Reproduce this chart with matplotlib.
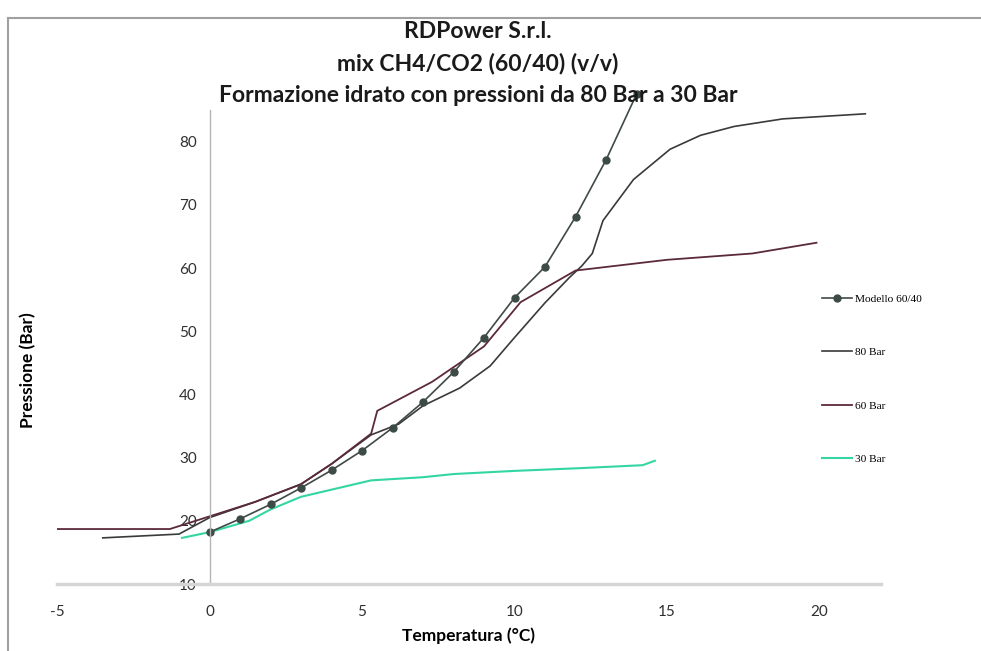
import matplotlib.pyplot as plt
from matplotlib.lines import Line2D

# Modello 60/40
model_t = [0, 1, 2, 3, 4, 5, 6, 7, 8, 9, 10, 11, 12, 13, 14]
model_p = [18.2, 20.3, 22.6, 25.2, 28.0, 31.1, 34.7, 38.8, 43.5, 49.0, 55.3, 60.2, 68.1, 77.1, 87.5]

# 80 Bar
bar80_t = [-3.5, -1.0, 0.0, 1.5, 3.0, 4.0, 5.3, 6.2, 7.0, 8.2, 9.2, 10.0, 11.0, 11.8,
           12.2, 12.55, 12.9, 13.9, 15.1, 16.1, 17.2, 18.8, 21.5]
bar80_p = [17.3, 17.9, 20.5, 23.0, 25.8, 29.0, 33.6, 35.3, 38.2, 41.0, 44.5, 49.0, 54.5, 58.5,
           60.3, 62.3, 67.5, 74.0, 78.8, 81.0, 82.4, 83.6, 84.4]

# 60 Bar
bar60_t = [-5.0, -1.3, 0.0, 1.5, 3.0, 4.0, 5.3, 5.5, 7.3, 9.0, 10.2, 12.0, 15.0, 17.8, 19.9]
bar60_p = [18.7, 18.7, 20.7, 23.0, 25.8, 29.0, 33.8, 37.4, 42.0, 47.6, 54.6, 59.6, 61.3, 62.3, 64.0]

# 30 Bar
bar30_t = [-0.9, 0.0, 1.3, 2.0, 3.0, 5.3, 7.0, 8.0, 10.0, 12.0, 14.2, 14.6]
bar30_p = [17.3, 18.2, 20.0, 21.8, 23.8, 26.4, 26.9, 27.4, 27.9, 28.3, 28.8, 29.5]

x_ticks = [-5, 0, 5, 10, 15, 20]
y_ticks = [10, 20, 30, 40, 50, 60, 70, 80]

plt.rcParams['font.family'] = ['Lato', 'DejaVu Sans']
plt.rcParams['axes.unicode_minus'] = False

fig = plt.figure(figsize=(9.81, 6.51), dpi=100)
ax = fig.add_axes([0.0581, 0.1029, 0.8395, 0.7281])

c80 = "#3a3a3a"
c60 = "#5b2a38"
c30 = "#33d6a2"
cmod = "#3f4a47"

ax.plot(bar80_t, bar80_p, color=c80, lw=1.2, label="80 Bar")
ax.plot(bar60_t, bar60_p, color=c60, lw=1.3, label="60 Bar")
ax.plot(bar30_t, bar30_p, color=c30, lw=1.5, label="30 Bar")
ax.plot(model_t, model_p, color=cmod, lw=1.2, marker="o", ms=5,
        mfc="#3d4b46", mec="#3d4b46", label="Modello 60/40", clip_on=False)

ax.set_xlim(-5, 22)
ax.set_ylim(10, 85)
ax.set_xticks(x_ticks)
ax.set_yticks(y_ticks)

ax.spines['top'].set_visible(False)
ax.spines['right'].set_visible(False)
ax.spines['left'].set_position(('data', 0))
ax.spines['left'].set_color("#b5b5b5")
ax.spines['left'].set_linewidth(1)
ax.spines['bottom'].set_color("#d5d5d5")
ax.spines['bottom'].set_linewidth(2.5)
ax.tick_params(axis='both', length=0, labelsize=11, colors="#303030")
ax.tick_params(axis='y', pad=9)
ax.tick_params(axis='x', pad=15)

ax.set_xlabel("Temperatura (°C)", fontsize=12.5, fontweight="bold", labelpad=6)
fig.text(28 / 981, 1 - 370 / 651, "Pressione (Bar)", rotation=90, fontsize=12.5,
         fontweight="bold", ha="center", va="center")

titles = ["RDPower S.r.l.", "mix CH4/CO2 (60/40) (v/v)",
          "Formazione idrato con pressioni da 80 Bar a 30 Bar"]
for i, t in enumerate(titles):
    fig.text(478 / 981, 1 - (31 + 32.5 * i) / 651, t, ha="center", va="center",
             fontsize=16.5, fontweight="bold", color="#1a1a1a")

handles = [
    Line2D([], [], color=cmod, lw=1.2, marker="o", ms=5, mfc="#3d4b46", mec="#3d4b46"),
    Line2D([], [], color=c80, lw=1.2),
    Line2D([], [], color=c60, lw=1.3),
    Line2D([], [], color=c30, lw=1.5),
]
labels = ["Modello 60/40", "80 Bar", "60 Bar", "30 Bar"]
fig.legend(handles, labels, loc="upper left", bbox_to_anchor=(812 / 981, 1 - 284 / 651),
           frameon=False, labelspacing=3.8, handlelength=2.6,
           handletextpad=0.3, prop={'family': 'Liberation Serif', 'size': 8.2})

# outer frame
fig.add_artist(Line2D([8 / 981, 8 / 981], [0, 1 - 18 / 651], color="#a0a0a0", lw=1.5))
fig.add_artist(Line2D([8 / 981, 1], [1 - 18 / 651, 1 - 18 / 651], color="#a0a0a0", lw=1.5))

fig.savefig("out.png", dpi=100)
